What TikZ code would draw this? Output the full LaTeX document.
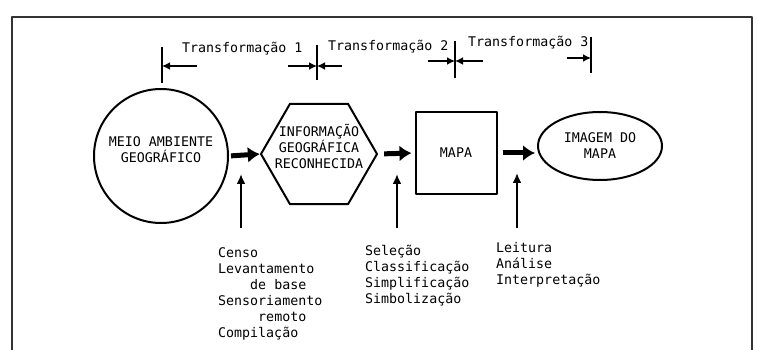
\documentclass[tikz,border=0pt]{standalone}
\usepackage{fontspec}
\setmonofont{DejaVu Sans Mono}
\usetikzlibrary{shapes.geometric}
\usetikzlibrary{arrows.meta}
\usetikzlibrary{positioning}
\tikzset{
txt/.style={font=\ttfamily\fontsize{13.3}{16}\selectfont,inner sep=0pt},
shp/.style={draw,line width=2pt},
fat/.style={line width=5pt,-{Latex[length=12pt,width=16pt]}},
thin/.style={line width=2pt,-{Latex[length=10pt,width=9pt]}},
thinl/.style={line width=2pt,{Latex[length=8pt,width=8pt]}-},
bar/.style={line width=2pt},
}
\begin{document}
\begin{tikzpicture}[x=1pt,y=-1pt,line join=round]
\useasboundingbox(0,0)rectangle(758,350);
\draw[line width=1.3pt,black!80](12,350)--(12,17)--(752,17)--(752,350);
%%
\node[shp,circle,minimum size=134pt](M1)at(161,156){};
\node[txt,align=center](M1t)at([yshift=6pt]M1.center){MEIO AMBIENTE\\GEOGRÁFICO};
\node[shp,regular polygon,regular polygon sides=6,minimum size=116pt](I1)at(319,154){};
\node[txt,align=center](I1t)at([yshift=8pt]I1.center){INFORMAÇÃO\\GEOGRÁFICA\\RECONHECIDA};
\node[shp,rectangle,minimum width=81pt,minimum height=82pt,txt](P1)at(456,153){MAPA};
\node[shp,ellipse,minimum width=124pt,minimum height=68pt,txt,align=center](IM)at(600,146){IMAGEM DO\\MAPA};
%
\draw[fat,shorten <=2pt](M1.east)--(I1.west);
\draw[fat,shorten <=6pt,shorten >=3pt](I1.east)--(P1.west);
\draw[fat,shorten <=5pt,shorten >=2pt](P1.east)--(P1.east-|IM.west);
%%
\coordinate(A1)at(241,228);\coordinate(B1)at(241,174);
\coordinate(A2)at(397,228);\coordinate(B2)at(397,174);
\coordinate(A3)at(517,228);\coordinate(B3)at(517,173);
\draw[thin](A1)--(B1);
\draw[thin](A2)--(B2);
\draw[thin](A3)--(B3);
\node[txt,align=left,anchor=north west](L1)at(218,247){Censo\\Levantamento\\\phantom{Leva}de base\\Sensoriamento\\\phantom{Senso}remoto\\Compilação};
\node[txt,align=left,anchor=north west](L2)at(365,245){Seleção\\Classificação\\Simplificação\\Simbolização};
\node[txt,align=left,anchor=north west](L3)at(496,242){Leitura\\Análise\\Interpretação};
%%
\draw[bar](162,47)--(162,83);
\draw[bar](317,45)--(317,80);
\draw[bar](455,41)--(455,78);
\draw[bar](591,37)--(591,73);
\coordinate(D1)at(162,66);\coordinate(D2)at(317,66);
\coordinate(D3)at(455,61);\coordinate(D4)at(591,58);
\draw[thinl](D1)--++(35,0);
\draw[thinl](D2)--++(-29,0);
\draw[thinl](D2)--++(25,0);
\draw[thinl](D3)--++(-27,0);
\draw[thinl](D3)--++(28,0);
\draw[thinl](D4)--++(-24,0);
\node[txt,anchor=west](T1)at(182,49){Transformação 1};
\node[txt,anchor=west](T2)at(328,47){Transformação 2};
\node[txt,anchor=west](T3)at(468,43){Transformação 3};
\end{tikzpicture}
\end{document}
